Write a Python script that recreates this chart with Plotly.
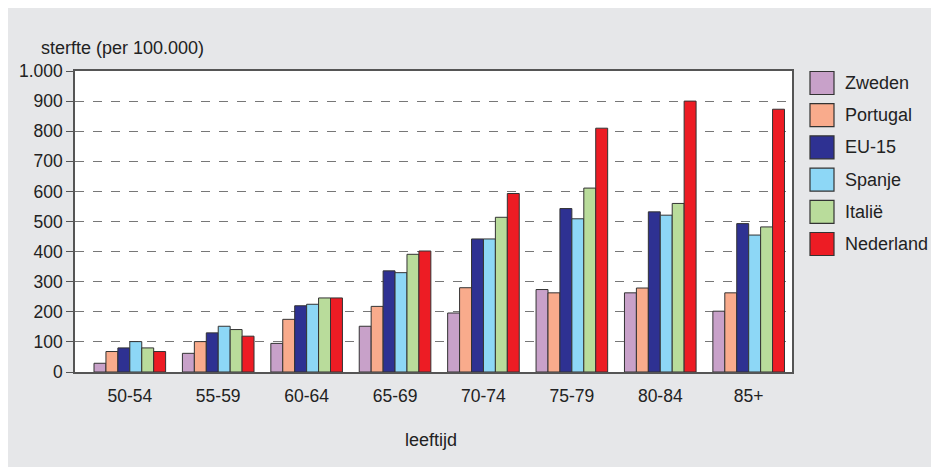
import plotly.graph_objects as go

# leeftijdsgroepen
leeftijd = ["50-54", "55-59", "60-64", "65-69", "70-74", "75-79", "80-84", "85+"]

# sterfte per 100.000
zweden = [29, 62, 95, 152, 196, 274, 263, 202]
portugal = [68, 101, 175, 218, 280, 263, 279, 263]
eu15 = [80, 130, 220, 336, 442, 543, 532, 493]
spanje = [101, 152, 225, 330, 442, 509, 521, 455]
italie = [80, 141, 246, 391, 514, 611, 560, 482]
nederland = [68, 119, 246, 402, 593, 810, 900, 873]

landen = ["Zweden", "Portugal", "EU-15", "Spanje", "Italië", "Nederland"]
kleuren = ["#c8a1c9", "#f9ab8c", "#2e3192", "#8dd7f6", "#b9dc9b", "#ed1c24"]
reeksen = [zweden, portugal, eu15, spanje, italie, nederland]

y_ticks = [0, 100, 200, 300, 400, 500, 600, 700, 800, 900, 1000]
y_labels = ["0", "100", "200", "300", "400", "500", "600", "700", "800", "900", "1.000"]

FONT = "Liberation Sans Narrow, Arial Narrow, Liberation Sans, Arial, sans-serif"
# page has an 8px body margin, so the figure itself is a bit smaller
W, H = 931, 459
L, R, T, B = 67, 784, 63, 364  # plot area in figure pixels


def px(x):
    return (x - L) / (R - L)


def py(y):
    return (B - y) / (B - T)


fig = go.Figure()
for naam, kleur, vals in zip(landen, kleuren, reeksen):
    fig.add_trace(go.Bar(
        x=leeftijd, y=vals, name=naam,
        marker=dict(color=kleur, line=dict(color="#333333", width=1)),
        showlegend=False,
    ))

shapes = []
annotations = []

# legenda
for i, (naam, kleur) in enumerate(zip(landen, kleuren)):
    yc = 75 + i * 32.2
    shapes.append(dict(type="rect", xref="paper", yref="paper",
                       x0=px(802), x1=px(826), y0=py(yc - 11.5), y1=py(yc + 11.5),
                       fillcolor=kleur, line=dict(color="#333333", width=1.2)))
    annotations.append(dict(text=naam, xref="paper", yref="paper",
                            x=px(835), y=py(yc), xanchor="left", yanchor="middle",
                            showarrow=False, font=dict(size=18, color="#222222", family=FONT)))

annotations.append(dict(text="sterfte (per 100.000)", xref="paper", yref="paper",
                        x=px(31), y=py(40), xanchor="left", yanchor="middle",
                        showarrow=False, font=dict(size=18, color="#222222", family=FONT)))
annotations.append(dict(text="leeftijd", xref="paper", yref="paper",
                        x=px(423), y=py(432), xanchor="center", yanchor="middle",
                        showarrow=False, font=dict(size=18, color="#222222", family=FONT)))

fig.update_layout(
    width=W, height=H,
    margin=dict(l=L, r=W - R, t=T, b=H - B),
    paper_bgcolor="#e6e7e9",
    plot_bgcolor="white",
    barmode="group",
    bargap=0.19,
    bargroupgap=0,
    font=dict(family=FONT, size=17, color="#222222"),
    shapes=shapes,
    annotations=annotations,
    xaxis=dict(
        range=[-0.62, 7.49],
        showline=True, mirror=True, linecolor="#555555", linewidth=1.5,
        ticks="", showgrid=False, ticklabelstandoff=7,
        tickfont=dict(size=17.5, family=FONT, color="#222222"),
    ),
    yaxis=dict(
        range=[0, 1000],
        tickvals=y_ticks, ticktext=y_labels,
        showline=True, mirror=True, linecolor="#555555", linewidth=1.5,
        ticks="outside", ticklen=7, tickcolor="#555555", tickwidth=1.2,
        showgrid=True, gridcolor="#777777", griddash="dash", gridwidth=1,
        zeroline=False,
        tickfont=dict(size=17.5, family=FONT, color="#222222"),
    ),
)

fig.write_html("out.html")
